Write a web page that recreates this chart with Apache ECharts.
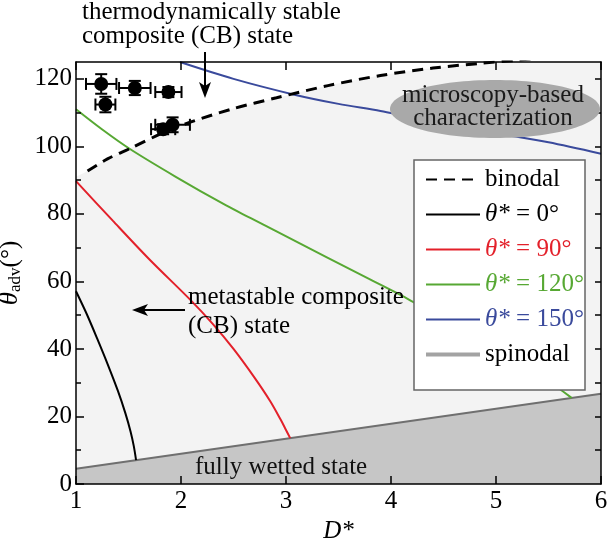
<!DOCTYPE html>
<html>
<head>
<meta charset="utf-8">
<script src="https://cdn.jsdelivr.net/npm/echarts@6/dist/echarts.min.js"></script>
<style>
html,body{margin:0;padding:0;background:#fff;}
#chart{width:608px;height:546px;}
</style>
</head>
<body>
<div id="chart"></div>
<script>
// ---- data ----
var xTicks = [1, 2, 3, 4, 5, 6];
var yTicks = [0, 20, 40, 60, 80, 100, 120];

var binodalD     = [1.11, 1.3, 1.51, 1.8, 2.11, 2.5, 2.91, 3.4, 3.9, 4.4, 4.85, 5.2, 5.6, 6.0];
var binodalTheta = [92.7, 96.3, 99.3, 103.6, 107.4, 111.2, 114.4, 118.0, 121.0, 123.2, 124.6, 125.5, 126.6, 127.6];
var binodalFillStart = [1.0, 91.0];

var spinodalD     = [1, 6];
var spinodalTheta = [4.5, 26.7];

var t0D     = [1.0, 1.1, 1.2, 1.3, 1.4, 1.47, 1.52, 1.55, 1.572];
var t0Theta = [57.1, 50.5, 43.2, 35.6, 27.5, 21.0, 15.5, 11.3, 7.1];

var t90D     = [1.0, 1.35, 1.7, 2.087, 2.3, 2.5, 2.7, 2.85, 2.95, 3.0, 3.04];
var t90Theta = [89.7, 78.0, 66.5, 54.6, 47.5, 40.0, 31.5, 24.5, 19.0, 16.0, 13.6];

var t120D     = [1.0, 1.25, 1.51, 1.95, 2.43, 2.66, 2.91, 3.38, 3.8, 4.09, 4.23, 4.7, 5.2, 5.5, 5.72];
var t120Theta = [111.0, 105.0, 99.3, 91.0, 82.5, 78.8, 74.8, 67.3, 60.6, 56.0, 53.6, 45.5, 36.5, 30.5, 25.5];

var t150D     = [1.99, 2.5, 3.07, 3.5, 3.9, 4.5, 5.0, 5.5, 6.0];
var t150Theta = [125.0, 120.0, 115.4, 112.6, 110.5, 106.8, 103.9, 101.2, 97.8];

var expD      = [1.24, 1.28, 1.56, 1.88, 1.83, 1.92];
var expTheta  = [118.5, 112.4, 117.3, 116.1, 105.1, 106.4];
var expDErr   = [0.145, 0.095, 0.15, 0.125, 0.115, 0.165];
var expThErr  = [2.9, 2.3, 2.1, 1.5, 1.5, 2.2];

function pairs(xs, ys){ return xs.map(function(x,i){ return [x, ys[i]]; }); }

var FONT = 'Liberation Serif';
var FS = 25;
var chart = echarts.init(document.getElementById('chart'), null, {renderer:'canvas'});

var errData = expD.map(function(d,i){ return [d, expTheta[i], expDErr[i], expThErr[i]]; });

function txt(x, y, s, color){
  return {type: 'text', z: 16, style: {x: x, y: y, text: s, font: FS + 'px "Liberation Serif"', fill: color || '#000', align: 'left', verticalAlign: 'middle'}};
}

var option = {
  backgroundColor: '#fff',
  animation: false,
  textStyle: {fontFamily: FONT},
  grid: {left: 76, right: 7, top: 62, bottom: 62, show: true, backgroundColor: '#fff', borderWidth: 0,
    containLabel: false, outerBoundsMode: 'none'},
  xAxis: [{
    type: 'value', position: 'bottom', min: 1, max: 6, interval: 1, z: 10,
    axisLine: {show: true, onZero: false, lineStyle: {color: '#000', width: 1.5}},
    axisTick: {show: true, inside: true, length: 8, lineStyle: {color: '#000', width: 1.5}},
    axisLabel: {fontFamily: FONT, fontSize: FS, color: '#000', margin: 5, customValues: xTicks},
    splitLine: {show: false},
    name: 'D*', nameLocation: 'middle', nameGap: 27,
    nameTextStyle: {fontFamily: FONT, fontSize: FS, fontStyle: 'italic', color: '#000'}
  }, {
    type: 'value', position: 'top', min: 1, max: 6, interval: 1, z: 10,
    axisLine: {show: true, onZero: false, lineStyle: {color: '#000', width: 1.5}},
    axisTick: {show: true, inside: true, length: 8, lineStyle: {color: '#000', width: 1.5}},
    axisLabel: {show: false}, splitLine: {show: false}
  }],
  yAxis: [{
    type: 'value', position: 'left', min: 0, max: 125, interval: 20, z: 10,
    axisLine: {show: true, onZero: false, lineStyle: {color: '#000', width: 1.5}},
    axisTick: {show: true, inside: true, length: 8, lineStyle: {color: '#000', width: 1.5},
      customValues: yTicks},
    minorTick: {show: false},
    axisLabel: {fontFamily: FONT, fontSize: FS, color: '#000', margin: 4, customValues: yTicks},
    splitLine: {show: false},
    name: '{t|θ}{s|adv}{p|(°)}', nameLocation: 'middle', nameGap: 42,
    nameTextStyle: {fontFamily: FONT, fontSize: FS, color: '#000',
      rich: {
        t: {fontFamily: FONT, fontSize: 27, fontStyle: 'italic', color: '#000'},
        s: {fontFamily: FONT, fontSize: 17, color: '#000', padding: [10, 0, 0, 0]},
        p: {fontFamily: FONT, fontSize: FS, color: '#000'}
      }}
  }, {
    type: 'value', position: 'left', min: 0, max: 125, interval: 10, z: 10,
    axisLine: {show: false},
    axisTick: {show: true, inside: true, length: 5, lineStyle: {color: '#000', width: 1.5},
      customValues: [10, 30, 50, 70, 90, 110]},
    axisLabel: {show: false}, splitLine: {show: false}
  }, {
    type: 'value', position: 'right', min: 0, max: 125, interval: 10, z: 10,
    axisLine: {show: true, onZero: false, lineStyle: {color: '#000', width: 1.5}},
    axisTick: {show: true, inside: true, length: 6, lineStyle: {color: '#000', width: 1.5},
      customValues: [10, 20, 30, 40, 50, 60, 70, 80, 90, 100, 110, 120]},
    axisLabel: {show: false}, splitLine: {show: false}
  }],
  legend: {
    left: 424, top: 167, orient: 'vertical', z: 20,
    itemWidth: 54, itemHeight: 14, itemGap: 10, padding: 0,
    backgroundColor: 'transparent',
    itemStyle: {opacity: 0},
    textStyle: {fontFamily: FONT, fontSize: FS, lineHeight: 24, color: '#000',
      rich: {i: {fontFamily: FONT, fontSize: FS, fontStyle: 'italic'}, n: {fontFamily: FONT, fontSize: FS}}},
    formatter: function(name){
      if (name.charAt(0) === 'θ') return '{i|θ*}{n|' + name.slice(2) + '}';
      return name;
    },
    data: [
      {name: 'binodal', textStyle: {color: '#000'}},
      {name: 'θ* = 0°', textStyle: {color: '#000'}},
      {name: 'θ* = 90°', textStyle: {color: '#e3202a'}},
      {name: 'θ* = 120°', textStyle: {color: '#57a833'}},
      {name: 'θ* = 150°', textStyle: {color: '#3a4a9c'}},
      {name: 'spinodal', textStyle: {color: '#000'}, lineStyle: {color: '#a3a3a3', width: 4}}
    ]
  },
  graphic: [
    {type: 'rect', z: 15, shape: {x: 414, y: 160, width: 171, height: 230},
      style: {fill: '#fff', stroke: '#666', lineWidth: 1.5}},
    {type: 'ellipse', z: 15, shape: {cx: 495, cy: 109, rx: 105, ry: 29},
      style: {fill: '#a9a9a9', stroke: 'none'}},
    {type: 'text', z: 16, style: {x: 493, y: 95, text: 'microscopy-based', font: FS + 'px "Liberation Serif"', fill: '#1a1a1a', align: 'center', verticalAlign: 'middle'}},
    {type: 'text', z: 16, style: {x: 493, y: 118, text: 'characterization', font: FS + 'px "Liberation Serif"', fill: '#1a1a1a', align: 'center', verticalAlign: 'middle'}},
    txt(82, 12, 'thermodynamically stable'),
    txt(82, 36, 'composite (CB) state'),
    {type: 'line', z: 16, shape: {x1: 205, y1: 52, x2: 205, y2: 90}, style: {stroke: '#000', lineWidth: 2}},
    {type: 'polygon', z: 16, shape: {points: [[199, 82], [205, 98], [211, 82], [205, 86]]}, style: {fill: '#000'}},
    txt(188, 297, 'metastable composite'),
    txt(188, 326, '(CB) state'),
    {type: 'line', z: 16, shape: {x1: 185, y1: 310, x2: 140, y2: 310}, style: {stroke: '#000', lineWidth: 2}},
    {type: 'polygon', z: 16, shape: {points: [[148, 304], [132, 310], [148, 316], [144, 310]]}, style: {fill: '#000'}},
    txt(195, 467, 'fully wetted state', '#111')
  ],
  series: [
    {name: 'binodalFill', type: 'line', z: 1,
      data: [binodalFillStart].concat(pairs(binodalD, binodalTheta)),
      symbol: 'none', smooth: 0.3,
      lineStyle: {width: 0, opacity: 0}, areaStyle: {color: '#f3f3f3', opacity: 1}, silent: true},
    {name: 'spinodal', type: 'line', z: 3,
      data: pairs(spinodalD, spinodalTheta), symbol: 'none',
      lineStyle: {color: '#6f6f6f', width: 2}, itemStyle: {color: '#a3a3a3'},
      areaStyle: {color: '#c6c6c6', opacity: 1}},
    {name: 'θ* = 0°', type: 'line', z: 4, data: pairs(t0D, t0Theta), symbol: 'none', smooth: 0.3,
      lineStyle: {color: '#000', width: 2}, itemStyle: {color: '#000'}},
    {name: 'θ* = 90°', type: 'line', z: 4, data: pairs(t90D, t90Theta), symbol: 'none', smooth: 0.3,
      lineStyle: {color: '#e3202a', width: 2}, itemStyle: {color: '#e3202a'}},
    {name: 'θ* = 120°', type: 'line', z: 4, data: pairs(t120D, t120Theta), symbol: 'none', smooth: 0.3,
      lineStyle: {color: '#57a833', width: 2}, itemStyle: {color: '#57a833'}},
    {name: 'θ* = 150°', type: 'line', z: 4, data: pairs(t150D, t150Theta), symbol: 'none', smooth: 0.3,
      lineStyle: {color: '#3a4a9c', width: 2}, itemStyle: {color: '#3a4a9c'}},
    {name: 'binodal', type: 'line', z: 5, data: pairs(binodalD, binodalTheta), symbol: 'none', smooth: 0.3,
      lineStyle: {color: '#000', width: 3, type: [11, 7]}, itemStyle: {color: '#000'}},
    {name: 'errors', type: 'custom', z: 6, data: errData,
      renderItem: function(params, api){
        var x = api.value(0), y = api.value(1), ex = api.value(2), ey = api.value(3);
        var l = api.coord([x - ex, y]), r = api.coord([x + ex, y]);
        var t = api.coord([x, y + ey]), b = api.coord([x, y - ey]);
        var cap = 6, st = {stroke: '#000', lineWidth: 2};
        return {type: 'group', children: [
          {type: 'line', shape: {x1: l[0], y1: l[1], x2: r[0], y2: r[1]}, style: st},
          {type: 'line', shape: {x1: l[0], y1: l[1] - cap, x2: l[0], y2: l[1] + cap}, style: st},
          {type: 'line', shape: {x1: r[0], y1: r[1] - cap, x2: r[0], y2: r[1] + cap}, style: st},
          {type: 'line', shape: {x1: t[0], y1: t[1], x2: b[0], y2: b[1]}, style: st},
          {type: 'line', shape: {x1: t[0] - cap, y1: t[1], x2: t[0] + cap, y2: t[1]}, style: st},
          {type: 'line', shape: {x1: b[0] - cap, y1: b[1], x2: b[0] + cap, y2: b[1]}, style: st}
        ]};
      }},
    {name: 'experiment', type: 'scatter', z: 7, data: pairs(expD, expTheta),
      symbol: 'circle', symbolSize: 14, itemStyle: {color: '#000', opacity: 1}}
  ]
};
chart.setOption(option);
</script>
</body>
</html>
